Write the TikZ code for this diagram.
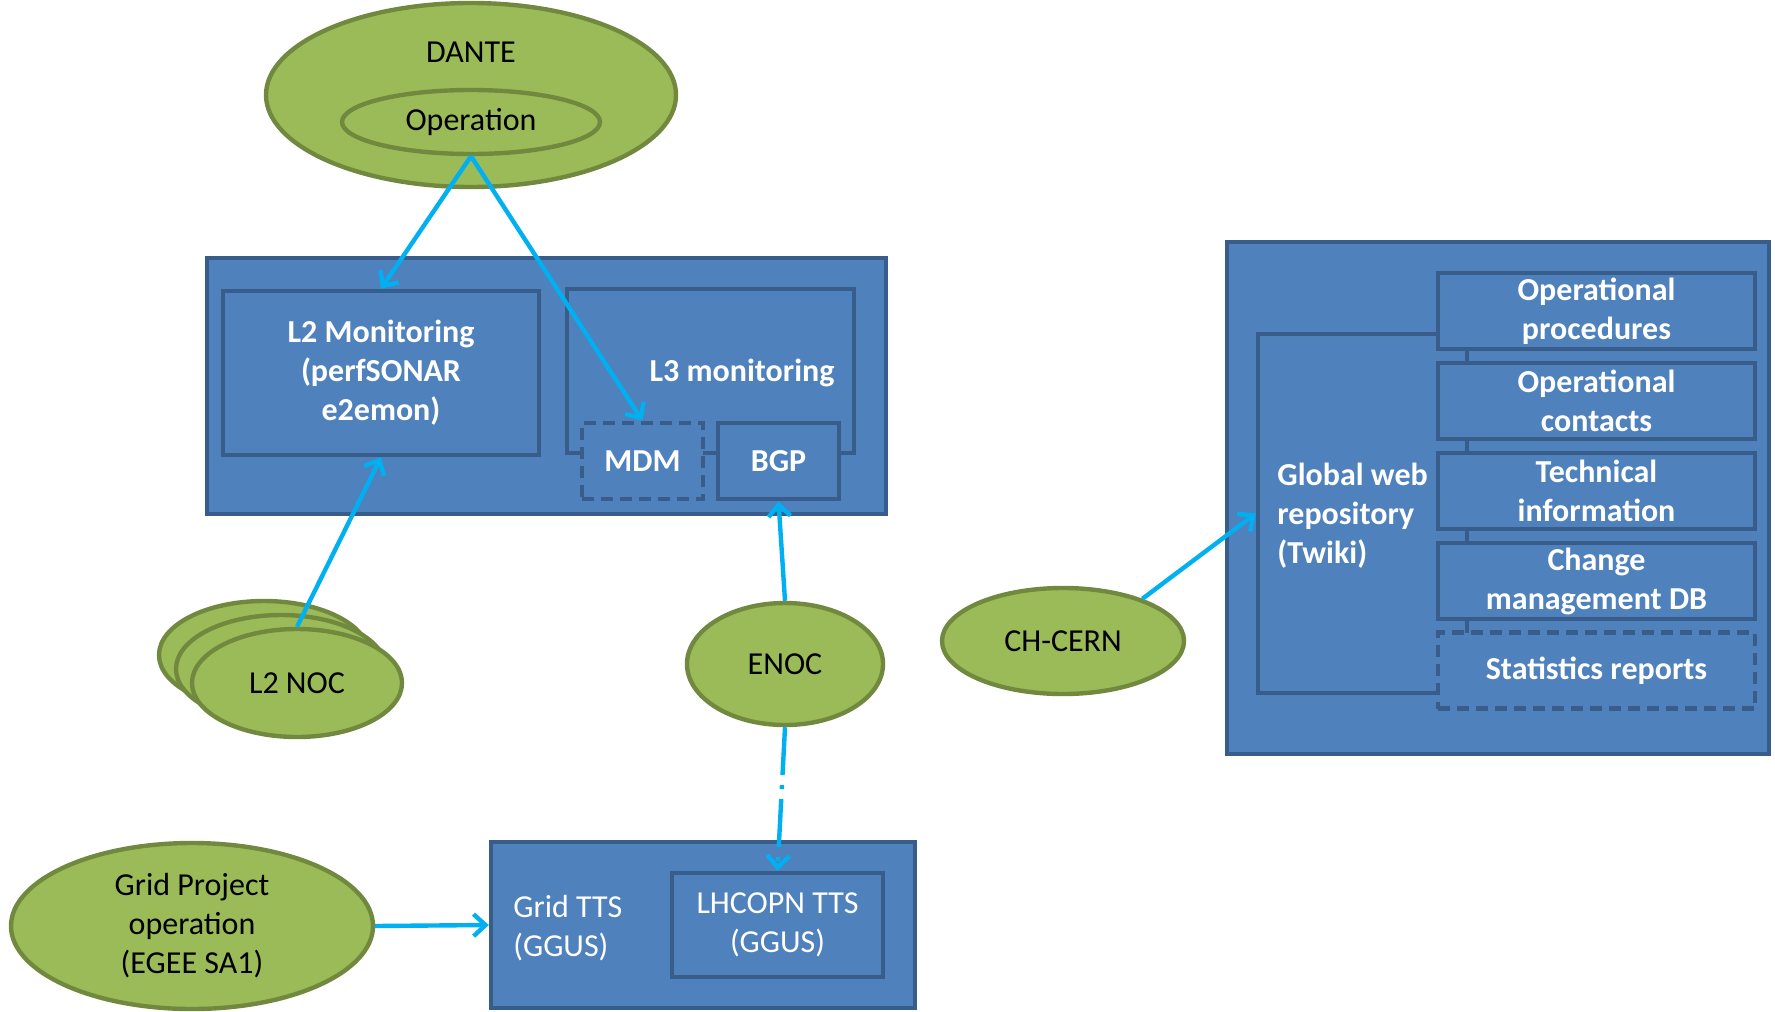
\documentclass[tikz,border=0pt]{standalone}
\usepackage{fontspec}
\setmainfont{Carlito}
\usepackage{tikz}
\usetikzlibrary{arrows.meta,positioning,shapes.geometric}

\definecolor{grpfill}{HTML}{9BBB59}
\definecolor{grpborder}{HTML}{71893F}
\definecolor{toolfill}{HTML}{4F81BD}
\definecolor{toolborder}{HTML}{385D8A}
\definecolor{linkcol}{HTML}{00B0F0}

\tikzset{
  grp/.style={ellipse, draw=grpborder, fill=grpfill, line width=2.2pt, inner sep=0pt,
    font=\fontsize{16}{19.5}\selectfont, align=center},
  tool/.style={rectangle, draw=toolborder, fill=toolfill, line width=2.2pt, inner sep=0pt,
    text=white, font=\bfseries\fontsize{16}{19.5}\selectfont, align=center},
  lbl/.style={inner sep=0pt, text=white, font=\bfseries\fontsize{16}{19.5}\selectfont, align=left},
  dashbox/.style={dash pattern=on 6pt off 3.5pt},
  link/.style={draw=linkcol, line width=2.2pt, -{Straight Barb[length=6pt,width=11pt]}},
}

\begin{document}
\begin{tikzpicture}[x=0.5pt,y=-0.5pt]
      \useasboundingbox (0,0) rectangle (1775,1011);

      %% DANTE
      \node (dante) [grp, minimum width=205pt, minimum height=92pt] at (471,95) {};
      \node (dantelbl) [inner sep=0pt, font=\fontsize{16}{19.5}\selectfont] at (471,52) {DANTE};
      \node (op) [grp, minimum width=129pt, minimum height=32pt] at (471,122) {Operation};

      %% monitoring
      \node (monframe) [tool, minimum width=339.5pt, minimum height=128pt] at (546.5,386) {};
      \node (l2mon) [tool, minimum width=158pt, minimum height=82pt] at (381,373)
            {L2 Monitoring\\(perfSONAR\\e2emon)};
      \node (l3mon) [tool, minimum width=143.5pt, minimum height=82pt] at (710.5,371) {};
      \node (l3lbl) [lbl] at (742,373) {L3 monitoring};
      \node (mdm) [tool, dashbox, minimum width=60.5pt, minimum height=38pt] at (642.5,461) {MDM};
      \node (bgp) [tool, minimum width=60.5pt, minimum height=38pt] at (778.5,461) {BGP};

      %% NOCs
      \node (noc3) [grp, minimum width=105pt, minimum height=54pt] at (264,655) {};
      \node (noc2) [grp, minimum width=105pt, minimum height=54pt] at (281,669) {};
      \node (noc) [grp, minimum width=105pt, minimum height=54pt] at (297,683) {L2 NOC};
      \node (enoc) [grp, minimum width=98pt, minimum height=61pt] at (785,664) {ENOC};
      \node (cern) [grp, minimum width=121pt, minimum height=53pt] at (1063,641) {CH-CERN};

      %% trouble tickets
      \node (gridop) [grp, minimum width=181pt, minimum height=83pt] at (192,926)
            {Grid Project\\operation\\(EGEE SA1)};
      \node (ggus) [tool, minimum width=212pt, minimum height=83pt] at (703,925) {};
      \node (ggustxt) [lbl, font=\fontsize{16}{19.5}\selectfont, anchor=west] at (513,928)
            {Grid TTS\\(GGUS)};
      \node (lhcopn) [tool, font=\fontsize{16}{19.5}\selectfont, minimum width=105.5pt, minimum height=52pt]
            at (777.5,925) {LHCOPN TTS\\(GGUS)};

      %% web repository
      \node (twiki) [tool, minimum width=271pt, minimum height=256pt] at (1498,498) {};
      \node (global) [tool, minimum width=104.5pt, minimum height=179.5pt] at (1362.5,513.5) {};
      \node (globallbl) [lbl, anchor=west] at (1277,516) {Global web\\repository\\(Twiki)};
      \node (procs) [tool, minimum width=158.5pt, minimum height=38pt] at (1596.5,311)
            {Operational\\procedures};
      \node (contacts) [tool, minimum width=158.5pt, minimum height=38pt] at (1596.5,401)
            {Operational\\contacts};
      \node (techinfo) [tool, minimum width=158.5pt, minimum height=38pt] at (1596.5,491)
            {Technical\\information};
      \node (changedb) [tool, minimum width=158.5pt, minimum height=38pt] at (1596.5,581)
            {Change\\management DB};
      \node (stats) [tool, dashbox, minimum width=158.5pt, minimum height=38pt] at (1596.5,670.5)
            {Statistics reports};

      %% links
      \draw [link] (op.south) -- (l2mon.north);
      \draw [link] (op.south) -- (mdm.north);
      \draw [link] (noc.north) -- (l2mon.south);
      \draw [link] (enoc.north) -- (bgp.south);
      \draw [link, dash pattern=on 24pt off 5pt on 2pt off 5pt] (enoc.south) -- (lhcopn.north);
      \draw [link] (gridop.east) -- (ggus.west);
      \draw [link] (cern.28) -- (global.west);

    \end{tikzpicture}
\end{document}
